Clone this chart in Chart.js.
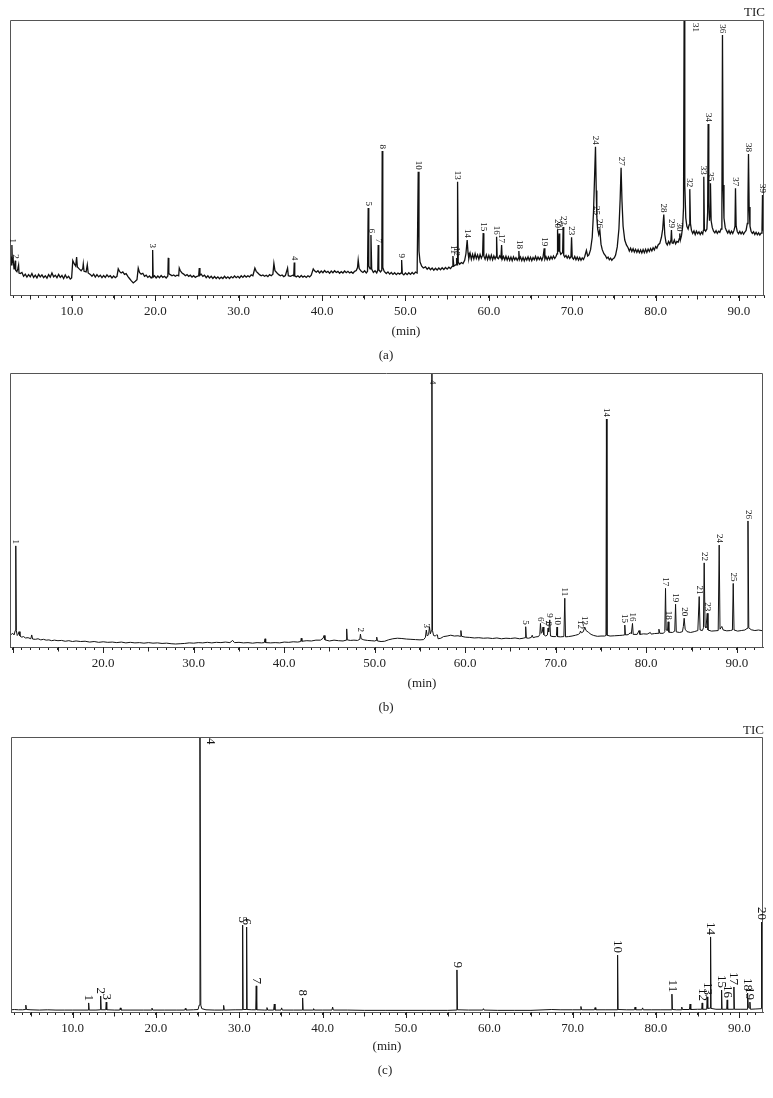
<!DOCTYPE html>
<html><head><meta charset="utf-8">
<script src="https://cdn.jsdelivr.net/npm/chart.js@4.4.1/dist/chart.umd.min.js"></script>
<style>
html,body{margin:0;padding:0;background:#fff;}
#wrap{position:relative;width:773px;height:1098px;background:#fff;}
canvas{position:absolute;left:0;}
</style></head><body>
<div id="wrap">
<canvas id="ca" width="773" height="365" style="top:0px;width:773px;height:365px"></canvas>
<canvas id="cb" width="773" height="355" style="top:365px;width:773px;height:355px"></canvas>
<canvas id="cc" width="773" height="378" style="top:720px;width:773px;height:378px"></canvas>
</div>
<script>
// ---------- data (time in min, intensity in % of panel full scale) ----------
const tickLabelsA = ['10.0','20.0','30.0','40.0','50.0','60.0','70.0','80.0','90.0'];
const tickLabelsB = ['20.0','30.0','40.0','50.0','60.0','70.0','80.0','90.0'];
const tickLabelsC = ['10.0','20.0','30.0','40.0','50.0','60.0','70.0','80.0','90.0'];

const traceA = [
[2.57,12],[2.65,14],[2.75,11],[2.8,18.2],[2.85,12],[2.95,13],[3.05,9.5],[3.15,10.5],[3.2,12.5],[3.25,9],[3.4,8.5],[3.5,9.5],[3.6,10.9],[3.65,8],[3.8,7.8],[4.0,8.2],[4.2,6.8],[4.4,7.6],[4.6,6.5],[4.8,7.4],[5.0,6.6],[5.2,7.8],[5.4,6.4],[5.6,7.2],[5.8,6.2],[6.0,7.5],[6.2,6.6],[6.4,7.3],[6.6,6.3],[6.8,7.0],[7.0,6.1],[7.2,7.4],[7.4,6.5],[7.6,8.0],[7.8,6.6],[8.0,7.2],[8.2,6.3],[8.4,7.5],[8.6,6.4],[8.8,7.1],[9.0,6.0],[9.2,7.3],[9.4,6.2],[9.6,6.8],[9.8,5.8],[9.96,6.2],[10.1,12.5],[10.3,11.2],[10.45,10.5],[10.56,13.8],[10.65,10.2],[10.9,9.4],[11.1,8.8],[11.3,9.6],[11.36,11.3],[11.45,8.6],[11.7,8.4],[11.84,11],[11.95,8],[12.2,7.5],[12.4,6.8],[12.6,7.6],[12.8,6.5],[13.0,7.4],[13.2,6.6],[13.4,7.2],[13.6,6.3],[13.8,7.1],[14.0,6.4],[14.2,7.3],[14.4,6.6],[14.6,7.0],[14.8,6.2],[15.0,6.9],[15.2,6.3],[15.4,6.8],[15.55,9.5],[15.7,8.6],[15.9,8.0],[16.1,8.4],[16.3,7.5],[16.5,7.8],[16.7,6.8],[16.9,6.0],[17.1,5.2],[17.35,4.4],[17.6,5.0],[17.8,5.6],[17.95,9.8],[18.1,8.2],[18.3,7.6],[18.5,7.9],[18.7,6.8],[18.9,7.2],[19.1,6.4],[19.3,6.9],[19.5,6.2],[19.62,6.6],[19.68,16.4],[19.74,6.5],[19.9,7.0],[20.1,6.2],[20.3,6.9],[20.5,6.3],[20.7,7.1],[20.9,6.4],[21.1,6.8],[21.3,6.2],[21.5,6.9],[21.55,13.5],[21.62,7.8],[21.8,7.4],[22.0,7.0],[22.2,7.3],[22.4,6.8],[22.6,7.2],[22.8,7.0],[22.87,9.8],[23.0,8.8],[23.2,8.0],[23.4,7.6],[23.6,7.0],[23.8,7.4],[24.0,6.8],[24.2,7.2],[24.4,6.5],[24.6,7.0],[24.8,6.4],[25.0,6.8],[25.2,7.0],[25.27,9.8],[25.35,7.2],[25.5,7.6],[25.7,6.8],[25.9,7.2],[26.1,6.3],[26.3,7.0],[26.5,6.2],[26.7,6.8],[26.9,6.0],[27.1,6.7],[27.3,6.0],[27.5,6.6],[27.7,5.9],[27.9,6.5],[28.1,6.0],[28.3,6.8],[28.5,6.1],[28.7,6.6],[28.9,6.0],[29.1,6.7],[29.3,6.2],[29.5,6.9],[29.7,6.3],[29.9,6.8],[30.1,6.2],[30.3,7.0],[30.5,6.4],[30.7,7.1],[30.9,6.5],[31.1,7.0],[31.3,6.6],[31.5,7.3],[31.7,7.0],[31.94,9.8],[32.1,8.6],[32.3,8.0],[32.5,7.4],[32.7,7.0],[32.9,7.3],[33.1,6.8],[33.3,7.2],[33.5,6.7],[33.7,7.4],[33.9,7.0],[34.1,7.6],[34.22,11.5],[34.35,8.8],[34.6,8.0],[34.8,7.4],[35.0,7.0],[35.2,7.3],[35.4,6.7],[35.6,7.1],[35.86,9.8],[35.95,7.0],[36.2,6.8],[36.5,7.2],[36.6,7.0],[36.66,11.8],[36.72,7.0],[36.9,6.6],[37.1,7.0],[37.3,6.4],[37.5,7.1],[37.7,6.5],[37.9,6.9],[38.1,6.4],[38.3,7.0],[38.5,6.6],[38.7,7.2],[38.94,9.5],[39.1,8.8],[39.3,8.3],[39.5,8.8],[39.7,8.0],[39.9,8.7],[40.1,8.1],[40.3,8.9],[40.5,8.2],[40.7,8.6],[40.9,7.9],[41.1,8.7],[41.3,8.1],[41.5,8.8],[41.7,8.2],[41.9,8.6],[42.1,7.9],[42.3,8.5],[42.5,8.0],[42.7,8.7],[42.9,8.1],[43.1,8.6],[43.3,8.0],[43.5,8.4],[43.7,7.9],[43.9,8.6],[44.1,8.9],[44.25,10],[44.33,12.7],[44.45,9.6],[44.7,8.6],[44.9,8.2],[45.1,8.8],[45.3,8.0],[45.45,8.6],[45.53,31.6],[45.6,10.5],[45.75,9.5],[45.86,21.8],[45.95,9.4],[46.15,8.2],[46.35,8.8],[46.55,8.0],[46.68,9],[46.73,18.2],[46.8,9.2],[47.0,8.4],[47.16,9],[47.21,52.4],[47.28,10],[47.45,8.6],[47.7,7.8],[47.9,8.4],[48.1,7.6],[48.3,8.2],[48.5,7.5],[48.7,8.1],[48.9,7.4],[49.1,8.0],[49.3,7.6],[49.48,8],[49.54,12.7],[49.62,7.8],[49.8,7.3],[50.0,8.0],[50.2,7.4],[50.4,8.1],[50.6,7.5],[50.8,8.2],[51.0,7.6],[51.2,8.3],[51.4,8],[51.53,44.8],[51.62,16],[51.75,12],[51.95,10.5],[52.15,9.8],[52.4,10.2],[52.6,9.4],[52.8,10.0],[53.0,9.2],[53.2,9.8],[53.4,9.0],[53.6,9.7],[53.8,9.1],[54.0,9.8],[54.2,9.2],[54.4,9.9],[54.6,9.3],[54.8,10.0],[55.0,9.4],[55.2,10.1],[55.4,9.6],[55.6,10.4],[55.69,14.2],[55.8,10.5],[55.95,10.8],[56.07,11],[56.13,13.5],[56.19,11],[56.25,41.2],[56.33,12],[56.5,11.2],[56.7,11.8],[56.9,11.4],[57.1,12.6],[57.25,15],[57.4,20],[57.5,15.5],[57.6,13.2],[57.75,15.2],[57.9,13.0],[58.05,14.8],[58.2,13.1],[58.35,15.0],[58.5,13.3],[58.65,14.6],[58.8,13.0],[58.95,14.7],[59.1,13.4],[59.25,14.5],[59.32,22.5],[59.4,14.2],[59.55,13.0],[59.7,14.6],[59.85,12.9],[60.0,14.4],[60.15,13.0],[60.3,14.5],[60.45,12.8],[60.6,14.2],[60.75,13.1],[60.87,14],[60.93,21.2],[61.0,13.6],[61.15,13.2],[61.3,14.2],[61.45,13.5],[61.53,18.2],[61.6,13.0],[61.75,14.0],[61.9,12.8],[62.05,14.1],[62.2,12.7],[62.35,13.9],[62.5,12.6],[62.65,13.8],[62.8,12.5],[62.95,13.9],[63.1,12.8],[63.25,13.6],[63.4,12.6],[63.55,13.5],[63.6,16],[63.67,12.9],[63.8,13.8],[63.95,12.5],[64.1,13.7],[64.25,12.4],[64.4,13.6],[64.55,12.7],[64.7,13.9],[64.85,12.6],[65.0,13.7],[65.15,12.5],[65.3,13.6],[65.45,12.8],[65.6,14.0],[65.75,12.7],[65.9,13.8],[66.05,12.9],[66.2,13.7],[66.35,12.6],[66.5,13.8],[66.64,17],[66.72,13],[66.85,13.9],[67.0,12.8],[67.15,13.9],[67.3,12.9],[67.45,14.0],[67.6,13.1],[67.75,14.2],[67.9,13.3],[68.05,14.0],[68.18,15],[68.24,23.6],[68.32,16],[68.38,17],[68.43,22.4],[68.5,16],[68.62,14.8],[68.75,15.2],[68.85,15.5],[68.91,24.7],[68.98,14.5],[69.1,13.8],[69.25,14.4],[69.4,13.4],[69.55,14.2],[69.7,13.3],[69.85,14],[69.92,21],[70.0,13.6],[70.15,13.0],[70.3,14.0],[70.45,12.8],[70.6,13.8],[70.75,12.7],[70.9,13.6],[71.05,12.6],[71.2,13.5],[71.35,12.9],[71.5,14],[71.7,16.2],[71.85,14.2],[72.0,14.6],[72.2,16.5],[72.4,21],[72.55,30],[72.7,45],[72.79,53.9],[72.88,38],[72.95,28.4],[73.05,24],[73.18,22],[73.31,23.6],[73.45,18.5],[73.6,16.5],[73.8,15.0],[74.0,14.2],[74.15,13.3],[74.3,13.8],[74.45,12.8],[74.6,13.4],[74.75,12.6],[74.9,13.2],[75.05,13.5],[75.2,14.5],[75.4,17.5],[75.6,24],[75.75,35],[75.86,46.3],[75.97,34],[76.1,25],[76.3,20],[76.5,18.2],[76.7,17.2],[76.85,16.0],[77.0,17.0],[77.15,15.8],[77.3,16.8],[77.45,15.6],[77.6,16.6],[77.75,15.5],[77.9,16.5],[78.05,15.4],[78.2,16.4],[78.35,15.3],[78.5,16.5],[78.65,15.4],[78.8,16.6],[78.95,15.5],[79.1,16.7],[79.25,15.8],[79.4,16.9],[79.55,16.0],[79.7,17.2],[79.85,16.4],[80.0,17.6],[80.15,17.0],[80.3,18.2],[80.5,18.8],[80.7,21],[80.85,24],[80.98,29.3],[81.1,22],[81.25,19],[81.4,18.2],[81.55,19.5],[81.7,18.5],[81.84,20],[81.9,23.6],[81.97,19],[82.1,18.8],[82.25,20],[82.4,18.6],[82.55,19.5],[82.7,19.2],[82.84,20.5],[82.9,22.4],[82.97,20],[83.1,21.5],[83.25,25],[83.35,32],[83.42,100],[83.5,40],[83.62,28],[83.75,25],[83.9,24],[84.02,25.5],[84.1,38.5],[84.18,26],[84.3,23.5],[84.45,22.4],[84.6,23.3],[84.75,22.0],[84.9,23.2],[85.05,22.3],[85.2,23.0],[85.35,22.0],[85.5,22.9],[85.65,22.2],[85.73,23.5],[85.78,43],[85.85,24],[86.0,23.2],[86.15,24],[86.24,30],[86.3,62.2],[86.38,34],[86.46,27],[86.53,30],[86.58,40.6],[86.66,27],[86.8,24.5],[86.95,23.2],[87.1,22.6],[87.25,23.4],[87.4,22.4],[87.55,23.2],[87.7,22.8],[87.85,24],[87.95,30],[88.02,94.5],[88.1,40],[88.2,28],[88.35,24.5],[88.5,23.4],[88.65,22.5],[88.8,23.4],[88.95,22.3],[89.1,23.2],[89.25,22.4],[89.4,23.5],[89.52,25],[89.58,38.8],[89.66,25],[89.8,23.0],[89.95,22.3],[90.1,23.1],[90.25,22.2],[90.4,23.0],[90.55,22.1],[90.7,22.9],[90.85,23.5],[91.0,26],[91.08,35],[91.14,51.3],[91.22,32],[91.32,25],[91.45,23.2],[91.6,22.4],[91.75,23.0],[91.9,22.0],[92.05,22.8],[92.2,21.9],[92.35,22.6],[92.5,21.8],[92.65,22.5],[92.76,24],[92.82,36.4],[92.88,24],[93.0,22.5]
];
const peaksA = [
['1',2.8,18.2],['2',3.2,12.5],['3',19.68,16.4],['4',36.66,11.8],['5',45.53,31.6],['6',45.86,21.8],['7',46.73,18.2],['8',47.21,52.4],['9',49.54,12.7],['10',51.53,44.8],['11',55.69,14.2],['12',56.13,13.5],['13',56.25,41.2],['14',57.4,20],['15',59.32,22.5],['16',60.93,21.2],['17',61.53,18.2],['18',63.6,16],['19',66.64,17],['20',68.24,23.6],['21',68.43,22.4],['22',68.91,24.7],['23',69.92,21],['24',72.79,53.9],['25',72.95,28.4],['26',73.31,23.6],['27',75.86,46.3],['28',80.98,29.3],['29',81.9,23.6],['30',82.9,22.4],['31',83.42,100],['32',84.1,38.5],['33',85.78,43],['34',86.3,62.2],['35',86.58,40.6],['36',88.02,94.5],['37',89.58,38.8],['38',91.14,51.3],['39',92.82,36.4]
];

const traceB = [
[9.7,5.2],[9.85,4.6],[10.0,5.0],[10.15,4.4],[10.28,6],[10.34,36.9],[10.4,6],[10.5,4.2],[10.6,4.6],[10.7,5.6],[10.8,4.0],[11.0,3.6],[11.2,3.8],[11.4,3.3],[11.7,3.4],[12.0,3.0],[12.1,4.4],[12.2,2.9],[12.5,2.8],[12.8,3.0],[13.1,2.6],[13.4,2.8],[13.7,2.5],[14.0,2.6],[14.3,2.3],[14.6,2.5],[15.0,2.3],[15.4,2.4],[15.8,2.1],[16.2,2.3],[16.6,2.0],[17.0,2.2],[17.5,2.0],[18.0,2.1],[18.5,1.8],[19.0,2.0],[19.5,1.7],[20.0,1.9],[20.5,1.7],[21.0,1.8],[21.5,1.6],[22.0,1.8],[22.5,1.5],[23.0,1.7],[23.5,1.5],[24.0,1.6],[24.5,1.4],[25.0,1.6],[25.5,1.4],[26.0,1.5],[26.5,1.3],[27.0,1.4],[27.5,1.2],[28.0,1.1],[28.5,1.2],[29.0,1.3],[29.5,1.5],[30.0,1.4],[30.5,1.6],[31.0,1.5],[31.5,1.7],[32.0,1.5],[32.5,1.7],[33.0,1.6],[33.5,1.8],[34.0,1.6],[34.3,2.4],[34.5,1.6],[35.0,1.7],[35.5,1.5],[36.0,1.6],[36.5,1.4],[37.0,1.6],[37.5,1.5],[37.8,1.6],[37.88,3.0],[37.95,1.6],[38.5,1.5],[39.0,1.6],[39.5,1.5],[40.0,1.8],[40.5,1.7],[41.0,1.9],[41.5,1.8],[41.82,2.0],[41.88,3.2],[41.95,2.1],[42.5,2.3],[43.0,2.2],[43.5,2.5],[44.0,2.5],[44.3,3.2],[44.4,4.2],[44.5,2.6],[45.0,2.2],[45.5,2.5],[46.0,2.3],[46.5,2.2],[46.85,2.5],[46.9,6.6],[46.97,2.6],[47.3,2.4],[47.7,2.5],[48.1,2.4],[48.35,2.8],[48.42,4.7],[48.5,3.0],[48.8,2.6],[49.2,2.4],[49.6,2.3],[50.0,2.2],[50.15,2.4],[50.22,3.6],[50.3,2.2],[50.7,2.0],[51.1,2.1],[51.5,2.6],[52.0,3.0],[52.5,3.2],[53.0,3.1],[53.5,2.9],[54.0,2.8],[54.5,2.7],[55.0,2.6],[55.4,2.7],[55.6,3.5],[55.7,6.2],[55.8,4.0],[55.95,4.5],[56.05,7.3],[56.15,4.8],[56.26,6],[56.32,100],[56.38,6],[56.5,4.2],[56.7,4.0],[56.85,4.5],[56.92,4.4],[57.0,3.0],[57.3,3.2],[57.6,3.8],[58.0,4.0],[58.4,4.3],[58.8,4.0],[59.2,4.1],[59.45,3.9],[59.52,6.0],[59.6,3.9],[60.0,3.6],[60.5,3.5],[61.0,3.3],[61.5,3.4],[62.0,3.2],[62.5,3.3],[63.0,3.1],[63.5,3.3],[64.0,3.0],[64.5,3.2],[65.0,3.1],[65.5,3.3],[66.0,3.0],[66.4,3.2],[66.62,3.4],[66.68,7.4],[66.75,3.3],[67.0,3.2],[67.3,3.5],[67.4,4.3],[67.5,3.4],[67.8,3.7],[68.1,3.8],[68.24,4.6],[68.31,8.6],[68.4,5],[68.5,5.4],[68.6,7.3],[68.68,4.5],[68.9,4.0],[69.08,4.4],[69.15,6.9],[69.22,5.5],[69.34,9.9],[69.42,4.0],[69.7,3.8],[70.0,3.8],[70.08,4.2],[70.14,7.3],[70.2,3.8],[70.5,3.7],[70.9,3.8],[71.0,17.8],[71.08,3.7],[71.4,3.8],[71.8,4.0],[72.2,4.3],[72.5,4.6],[72.66,5.0],[72.73,5.8],[72.85,5.2],[73.05,5.6],[73.2,7.3],[73.35,6.0],[73.6,5.4],[73.9,4.6],[74.2,4.2],[74.6,3.9],[75.0,4.0],[75.4,4.0],[75.55,4.2],[75.6,83.2],[75.66,4.3],[76.0,4.0],[76.5,4.1],[77.0,4.2],[77.4,4.3],[77.58,4.4],[77.63,8.0],[77.7,4.4],[78.0,4.5],[78.25,5.2],[78.35,4.8],[78.48,8.6],[78.56,4.6],[79.0,4.6],[79.2,6.0],[79.3,4.6],[79.7,4.8],[80.1,4.7],[80.45,5.3],[80.55,4.7],[80.9,4.9],[81.3,5.0],[81.4,6.5],[81.5,5.0],[81.9,5.0],[82.05,5.6],[82.13,21.4],[82.2,6.2],[82.35,6.0],[82.42,9.2],[82.5,5.4],[82.9,5.3],[83.15,5.8],[83.24,15.6],[83.32,5.5],[83.7,5.3],[84.0,5.6],[84.1,7.5],[84.19,10.5],[84.3,6.5],[84.5,5.6],[84.9,5.3],[85.3,5.6],[85.7,6.0],[85.85,18.4],[85.95,6.2],[86.2,6.0],[86.32,7],[86.4,30.7],[86.5,7.5],[86.6,7],[86.74,12.3],[86.82,6.2],[87.2,5.8],[87.6,5.9],[87.95,6.0],[88.06,37.2],[88.15,6.5],[88.35,7.5],[88.5,6.2],[88.9,5.9],[89.3,6.0],[89.52,6.2],[89.61,23.2],[89.7,6.2],[90.1,5.8],[90.5,6.0],[90.9,6.2],[91.15,6.8],[91.24,46],[91.33,7.0],[91.6,6.3],[92.0,6.0],[92.4,6.2],[92.9,5.9]
];
const peaksB = [
['1',10.34,36.9],['2',48.42,4.7],['3',55.7,6.2],['4',56.32,100],['5',66.68,7.4],['6',68.31,8.6],['7',68.6,7.3],['8',69.15,6.9],['9',69.34,9.9],['10',70.14,7.3],['11',71.0,17.8],['12',72.73,5.8],['13',73.2,7.3],['14',75.6,83.2],['15',77.63,8.0],['16',78.48,8.6],['17',82.13,21.4],['18',82.42,9.2],['19',83.24,15.6],['20',84.19,10.5],['21',85.85,18.4],['22',86.4,30.7],['23',86.74,12.3],['24',88.06,37.2],['25',89.61,23.2],['26',91.24,46]
];

const traceC = [
[2.6,0.8],[3.0,0.9],[3.5,0.8],[4.0,0.8],[4.3,0.9],[4.38,2.5],[4.46,0.9],[5.0,0.8],[6.0,0.7],[7.0,0.8],[8.0,0.7],[9.0,0.7],[10.0,0.7],[11.0,0.7],[11.86,0.7],[11.92,3.3],[11.98,0.7],[12.8,0.7],[13.3,0.8],[13.36,5.8],[13.42,0.8],[13.97,0.8],[14.03,3.6],[14.09,0.8],[15.0,0.7],[15.65,0.7],[15.72,1.5],[15.8,0.7],[17.0,0.7],[18.5,0.7],[19.45,0.7],[19.52,1.4],[19.6,0.7],[21.0,0.7],[22.5,0.7],[23.45,0.7],[23.52,1.3],[23.6,0.7],[24.5,0.8],[25.05,0.9],[25.18,2.5],[25.28,100],[25.38,2.5],[25.5,1.2],[26.0,0.8],[27.0,0.7],[28.05,0.7],[28.12,2.4],[28.2,0.7],[29.5,0.8],[30.34,0.8],[30.4,31.6],[30.46,0.9],[30.82,0.9],[30.88,30.9],[30.94,0.9],[31.5,0.8],[31.97,0.8],[32.03,9.5],[32.09,0.8],[33.0,0.7],[33.25,0.7],[33.32,1.6],[33.4,0.7],[34.12,0.7],[34.2,2.9],[34.28,0.7],[35.0,0.7],[35.08,1.5],[35.16,0.7],[36.5,0.7],[37.54,0.7],[37.6,5.1],[37.66,0.7],[38.85,0.7],[38.92,1.2],[39.0,0.7],[40.0,0.7],[41.12,0.7],[41.2,1.8],[41.28,0.7],[43.0,0.7],[45.0,0.6],[47.5,0.6],[50.0,0.6],[52.5,0.6],[55.0,0.6],[56.06,0.7],[56.12,15.3],[56.18,0.8],[57.5,0.7],[59.22,0.7],[59.3,1.2],[59.38,0.7],[61.0,0.6],[63.0,0.6],[65.0,0.6],[67.5,0.9],[68.5,0.8],[70.0,0.8],[70.92,0.8],[71.0,2.0],[71.08,0.8],[72.62,0.8],[72.7,1.6],[72.78,0.8],[74.0,0.8],[75.34,0.8],[75.4,20.7],[75.46,0.9],[76.5,0.8],[77.42,0.8],[77.5,1.8],[77.58,0.8],[78.32,0.8],[78.4,1.5],[78.48,0.8],[79.5,0.8],[80.5,0.8],[81.86,0.8],[81.92,6.5],[81.98,0.9],[82.5,0.8],[83.02,0.8],[83.1,1.8],[83.18,0.9],[84.02,0.9],[84.1,2.9],[84.18,0.9],[85.0,1.0],[85.49,1.0],[85.55,3.3],[85.61,1.0],[86.09,1.0],[86.15,5.5],[86.22,1.3],[86.5,1.4],[86.56,27.3],[86.62,1.3],[87.2,1.0],[87.82,1.0],[87.88,8.0],[87.94,1.0],[88.49,1.0],[88.55,4.4],[88.61,1.0],[89.3,1.0],[89.36,9.1],[89.42,1.0],[90.2,1.0],[90.94,1.0],[91.0,6.9],[91.1,1.6],[91.22,1.4],[91.28,3.6],[91.34,1.0],[92.0,1.1],[92.62,1.2],[92.68,32.7],[92.74,1.5],[92.85,1.3]
];
const peaksC = [
['1',11.92,3.3],['2',13.36,5.8],['3',14.03,3.6],['4',25.28,100],['5',30.4,31.6],['6',30.88,30.9],['7',32.03,9.5],['8',37.6,5.1],['9',56.12,15.3],['10',75.4,20.7],['11',81.92,6.5],['12',85.55,3.3],['13',86.15,5.5],['14',86.56,27.3],['15',87.88,8],['16',88.55,4.4],['17',89.36,9.1],['18',91.0,6.9],['19',91.28,3.6],['20',92.68,32.7]
];

// ---------- rendering ----------
const FONT = "'Liberation Serif', 'Times New Roman', 'DejaVu Serif', serif";

function makeDeco(cfg) {
  return {
    id: 'deco',
    afterDraw(chart) {
      const {ctx, chartArea: a, scales: {x, y}} = chart;
      ctx.save();
      ctx.strokeStyle = '#555'; ctx.lineWidth = 1;
      ctx.beginPath();
      ctx.moveTo(a.left + 0.5, a.bottom);
      ctx.lineTo(a.left + 0.5, a.top + 0.5);
      ctx.lineTo(a.right - 0.5, a.top + 0.5);
      ctx.lineTo(a.right - 0.5, a.bottom);
      ctx.stroke();
      ctx.strokeStyle = '#222';
      for (let t = Math.ceil(x.min); t <= x.max; t++) {
        if (t % 5) continue;
        const px = Math.round(x.getPixelForValue(t)) + 0.5;
        ctx.beginPath();
        ctx.moveTo(px, a.bottom);
        ctx.lineTo(px, a.bottom + (t % 10 ? 4.5 : 6));
        ctx.stroke();
      }
      ctx.fillStyle = '#111';
      ctx.font = cfg.labelSize + 'px ' + FONT;
      cfg.peaks.forEach(([n, t, v]) => {
        const px = x.getPixelForValue(t);
        ctx.save();
        if (v >= 100) {
          ctx.translate(px + cfg.topDx, a.top + cfg.topDy);
          ctx.rotate(Math.PI / 2);
          ctx.textAlign = 'left';
        } else {
          ctx.translate(px, y.getPixelForValue(v) - 2);
          ctx.rotate(Math.PI / 2);
          ctx.textAlign = 'right';
        }
        ctx.textBaseline = 'middle';
        ctx.fillText(n, 0, 0);
        ctx.restore();
      });
      ctx.font = '13px ' + FONT;
      ctx.fillStyle = '#222';
      ctx.textBaseline = 'middle';
      cfg.texts.forEach(tx => {
        ctx.textAlign = tx.align || 'center';
        ctx.fillText(tx.t, tx.x, tx.y);
      });
      ctx.restore();
    }
  };
}

function makeChart(id, cfg) {
  return new Chart(document.getElementById(id), {
    type: 'line',
    data: { datasets: [{
      data: cfg.trace.map(p => ({x: p[0], y: p[1]})),
      borderColor: '#111', borderWidth: cfg.lineW, pointRadius: 0, tension: 0, fill: false
    }]},
    options: {
      responsive: false, animation: false, devicePixelRatio: 1,
      layout: { padding: cfg.pad },
      plugins: { legend: {display: false}, tooltip: {enabled: false} },
      scales: {
        x: {
          type: 'linear', min: cfg.min, max: cfg.max,
          afterBuildTicks: s => { const t = []; for (let v = Math.ceil(cfg.min); v <= Math.floor(cfg.max); v++) t.push({value: v}); s.ticks = t; },
          afterFit: s => { s.height = cfg.axisH; },
          ticks: {
            autoSkip: false, maxRotation: 0, minRotation: 0, padding: 6, color: '#222',
            font: {family: FONT, size: 13},
            callback: v => { const s = Number(v).toFixed(1); return cfg.tickLabels.includes(s) ? s : ''; }
          },
          grid: { display: true, drawOnChartArea: false, drawTicks: true, tickLength: 3, tickColor: '#222', tickWidth: 1 },
          border: { display: true, color: '#555', width: 1 }
        },
        y: { display: false, min: 0, max: 100 }
      }
    },
    plugins: [makeDeco(cfg)]
  });
}

makeChart('ca', {
  trace: traceA, peaks: peaksA, tickLabels: tickLabelsA, min: 2.57, max: 93.0,
  pad: {left: 10, right: 9, top: 20, bottom: 0}, axisH: 70, lineW: 1.3,
  labelSize: 9, topDx: 11, topDy: 3,
  texts: [{t: '(min)', x: 406, y: 332}, {t: '(a)', x: 386, y: 356}, {t: 'TIC', x: 765, y: 13, align: 'right'}]
});
makeChart('cb', {
  trace: traceB, peaks: peaksB, tickLabels: tickLabelsB, min: 9.7, max: 92.9,
  pad: {left: 10, right: 10, top: 8, bottom: 0}, axisH: 73, lineW: 1,
  labelSize: 9, topDx: 0, topDy: 7,
  texts: [{t: '(min)', x: 422, y: 319}, {t: '(b)', x: 386, y: 343}]
});
makeChart('cc', {
  trace: traceC, peaks: peaksC, tickLabels: tickLabelsC, min: 2.6, max: 92.85,
  pad: {left: 11, right: 10, top: 17, bottom: 0}, axisH: 86, lineW: 1,
  labelSize: 13, topDx: 10, topDy: 1,
  texts: [{t: '(min)', x: 387, y: 327}, {t: '(c)', x: 385, y: 351}, {t: 'TIC', x: 764, y: 11, align: 'right'}]
});
</script>
</body></html>
